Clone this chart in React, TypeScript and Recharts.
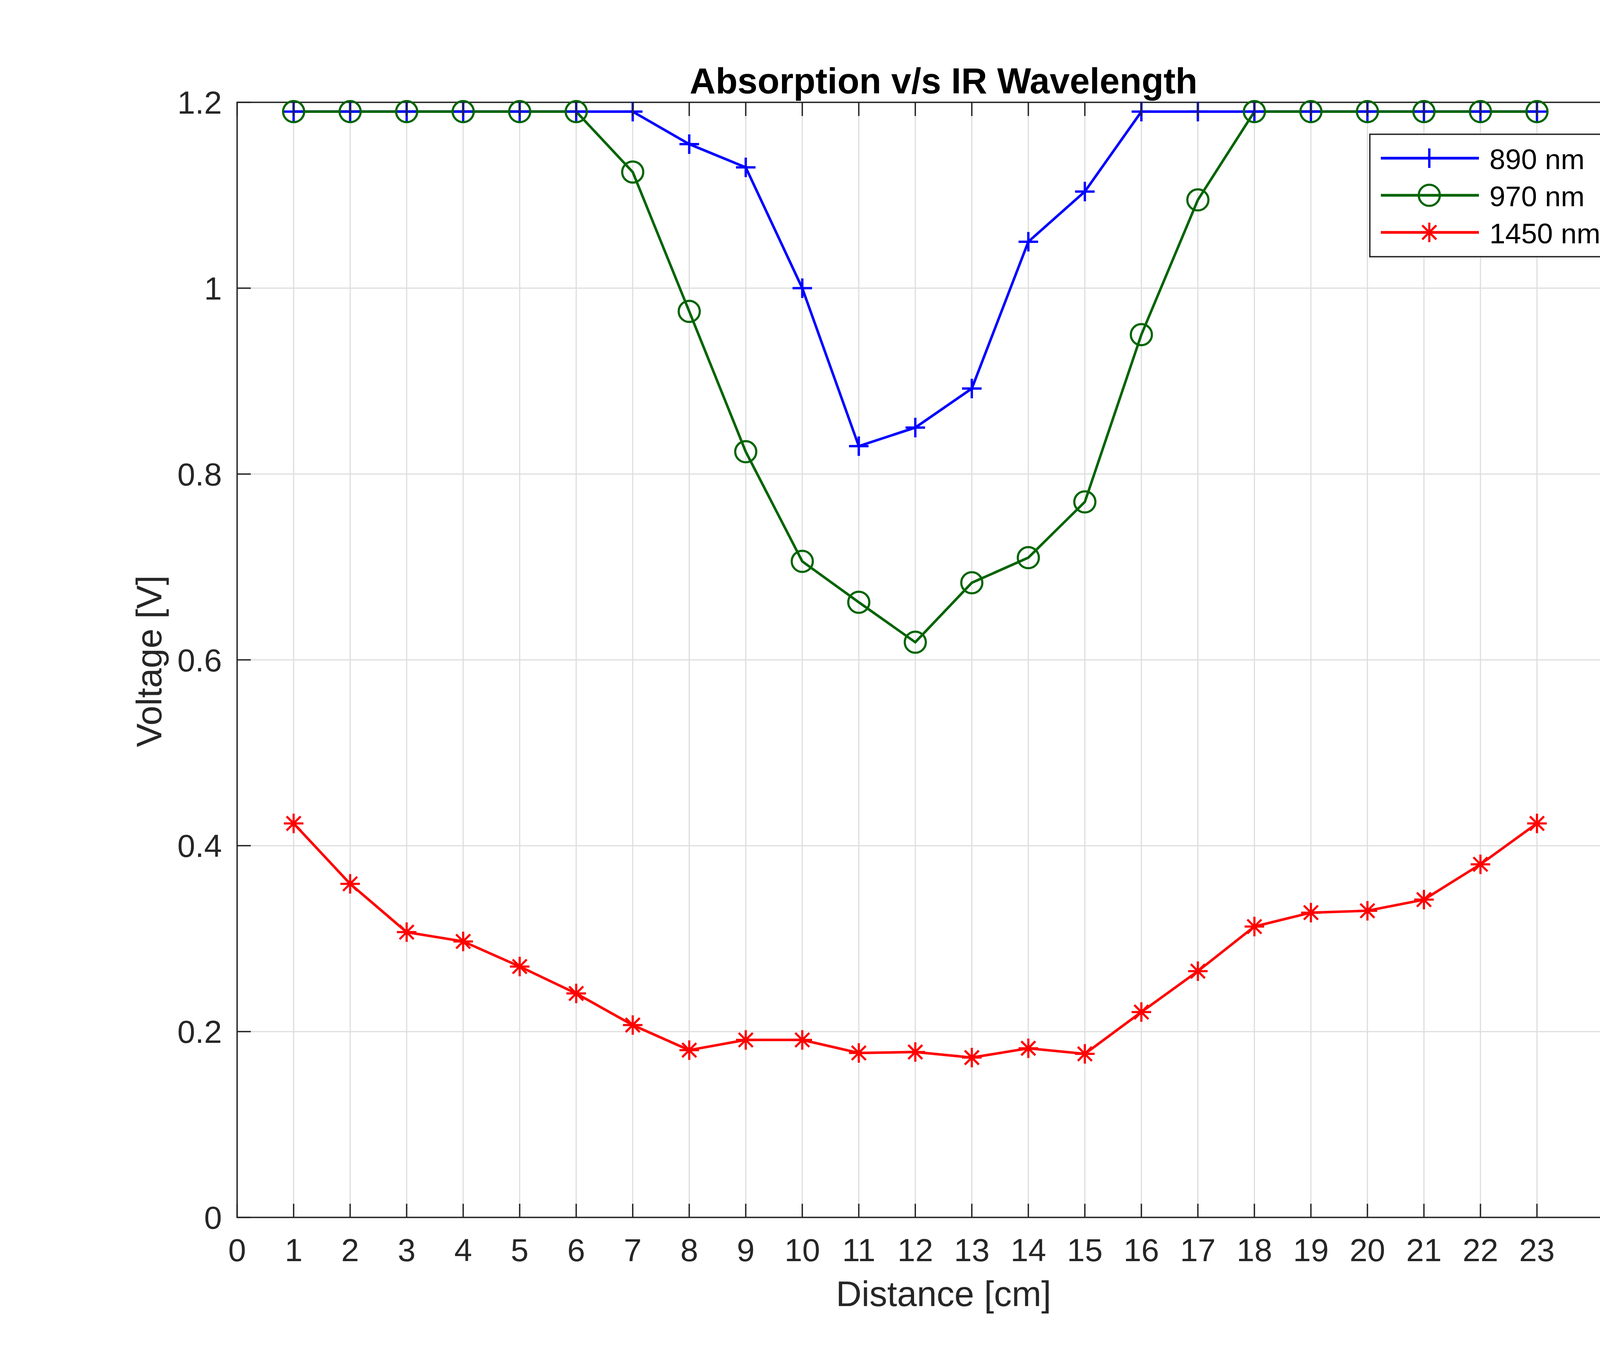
import { LineChart, Line, XAxis, YAxis, CartesianGrid, Legend, ReferenceArea } from 'recharts';

// distance in cm (x) and measured voltage per IR wavelength
const DISTANCE = [1, 2, 3, 4, 5, 6, 7, 8, 9, 10, 11, 12, 13, 14, 15, 16, 17, 18, 19, 20, 21, 22, 23];
const V_890 = [1.19, 1.19, 1.19, 1.19, 1.19, 1.19, 1.19, 1.155, 1.13, 1.0, 0.83, 0.85, 0.892, 1.05, 1.104, 1.19, 1.19, 1.19, 1.19, 1.19, 1.19, 1.19, 1.19];
const V_970 = [1.19, 1.19, 1.19, 1.19, 1.19, 1.19, 1.125, 0.975, 0.824, 0.706, 0.662, 0.619, 0.683, 0.71, 0.77, 0.95, 1.095, 1.19, 1.19, 1.19, 1.19, 1.19, 1.19];
const V_1450 = [0.424, 0.359, 0.307, 0.297, 0.27, 0.241, 0.207, 0.18, 0.191, 0.191, 0.177, 0.178, 0.172, 0.182, 0.176, 0.221, 0.265, 0.313, 0.328, 0.33, 0.342, 0.38, 0.424];

const X_TICKS = [0, 1, 2, 3, 4, 5, 6, 7, 8, 9, 10, 11, 12, 13, 14, 15, 16, 17, 18, 19, 20, 21, 22, 23];
const X_MINOR = Array.from({ length: 126 }, (_, i) => i / 5);
const Y_TICKS = [0, 0.2, 0.4, 0.6, 0.8, 1, 1.2];
const SERIES_ORDER = ['a', 'b', 'c'];

const data = DISTANCE.map((d, i) => ({ x: d, a: V_890[i], b: V_970[i], c: V_1450[i] }));

const W = 4667;
const H = 3500;
const PLOT_LEFT = 607;
const PLOT_RIGHT = 4224;
const PLOT_TOP = 262;
const PLOT_BOTTOM = 3117;
const AXIS = '#262626';
const FONT = '"Liberation Sans", Arial, Helvetica, sans-serif';
const MAJOR = 35;
const MINOR = 17;

const BLUE = '#0000ff';
const GREEN = '#006400';
const RED = '#ff0000';

function Plus({ cx, cy, color }: any) {
  const s = 25;
  return (
    <g stroke={color} strokeWidth={6}>
      <line x1={cx - s} y1={cy} x2={cx + s} y2={cy} />
      <line x1={cx} y1={cy - s} x2={cx} y2={cy + s} />
    </g>
  );
}

function Ring({ cx, cy, color }: any) {
  return <circle cx={cx} cy={cy} r={27} fill="none" stroke={color} strokeWidth={5.5} />;
}

function Star({ cx, cy, color }: any) {
  const s = 25;
  const d = 18;
  return (
    <g stroke={color} strokeWidth={5.5}>
      <line x1={cx - s} y1={cy} x2={cx + s} y2={cy} />
      <line x1={cx} y1={cy - s} x2={cx} y2={cy + s} />
      <line x1={cx - d} y1={cy - d} x2={cx + d} y2={cy + d} />
      <line x1={cx - d} y1={cy + d} x2={cx + d} y2={cy - d} />
    </g>
  );
}

const MARKERS: Record<string, any> = { a: Plus, b: Ring, c: Star };

function XTick({ x, payload }: any) {
  return (
    <g>
      <line x1={x} y1={PLOT_BOTTOM} x2={x} y2={PLOT_BOTTOM - MAJOR} stroke={AXIS} strokeWidth={3.5} />
      <line x1={x} y1={PLOT_TOP} x2={x} y2={PLOT_TOP + MAJOR} stroke={AXIS} strokeWidth={3.5} />
      <text x={x} y={PLOT_BOTTOM + 112} textAnchor="middle" fontSize={82} fontFamily={FONT} fill={AXIS}>
        {payload.value}
      </text>
    </g>
  );
}

function XMinorTick({ x }: any) {
  return (
    <g stroke={AXIS} strokeWidth={3.5}>
      <line x1={x} y1={PLOT_BOTTOM} x2={x} y2={PLOT_BOTTOM - MINOR} />
      <line x1={x} y1={PLOT_TOP} x2={x} y2={PLOT_TOP + MINOR} />
    </g>
  );
}

function YTick({ y, payload }: any) {
  return (
    <g>
      <line x1={PLOT_LEFT} y1={y} x2={PLOT_LEFT + MAJOR} y2={y} stroke={AXIS} strokeWidth={3.5} />
      <line x1={PLOT_RIGHT} y1={y} x2={PLOT_RIGHT - MAJOR} y2={y} stroke={AXIS} strokeWidth={3.5} />
      <text x={PLOT_LEFT - 39} y={y + 29} textAnchor="end" fontSize={82} fontFamily={FONT} fill={AXIS}>
        {String(payload.value)}
      </text>
    </g>
  );
}

function LegendBox({ payload }: any) {
  const rows = [...(payload || [])].sort(
    (p: any, q: any) => SERIES_ORDER.indexOf(p.dataKey) - SERIES_ORDER.indexOf(q.dataKey)
  );
  return (
    <svg width={637} height={317} style={{ display: 'block' }}>
      <rect x={1.75} y={1.75} width={633.5} height={313.5} fill="#fff" stroke={AXIS} strokeWidth={3.5} />
      {rows.map((entry: any, i: number) => {
        const y = 63 + i * 95;
        const M = MARKERS[entry.dataKey] || Plus;
        return (
          <g key={entry.value}>
            <line x1={30} y1={y} x2={281} y2={y} stroke={entry.color} strokeWidth={7} />
            <M cx={154} cy={y} color={entry.color} />
            <text x={308} y={y + 28} fontSize={73} fontFamily={FONT} fill="#000">
              {entry.value}
            </text>
          </g>
        );
      })}
    </svg>
  );
}

const dotFor = (key: string, color: string) => (p: any) => {
  const M = MARKERS[key];
  return (
    <g key={`${key}-${p.index}`}>
      <M cx={p.cx} cy={p.cy} color={color} />
    </g>
  );
};

export default function App() {
  return (
    <div style={{ position: 'absolute', left: 0, top: 0, width: W, height: H, background: '#fff' }}>
      <LineChart width={W} height={H} data={data} margin={{ top: PLOT_TOP, right: W - PLOT_RIGHT, bottom: H - PLOT_BOTTOM - 100, left: PLOT_LEFT - 100 }}>
        <CartesianGrid stroke="#dedede" strokeWidth={3} />
        <XAxis
          dataKey="x"
          type="number"
          domain={[0, 25]}
          ticks={X_TICKS}
          interval={0}
          height={100}
          axisLine={false}
          tickLine={false}
          tick={XTick}
        />
        <XAxis
          xAxisId="minor"
          dataKey="x"
          type="number"
          domain={[0, 25]}
          ticks={X_MINOR}
          interval={0}
          height={0}
          axisLine={false}
          tickLine={false}
          tick={XMinorTick}
        />
        <YAxis
          type="number"
          domain={[0, 1.2]}
          ticks={Y_TICKS}
          interval={0}
          width={100}
          axisLine={false}
          tickLine={false}
          tick={YTick}
        />
        <ReferenceArea x1={0} x2={25} y1={0} y2={1.2} fill="none" stroke={AXIS} strokeWidth={3.5} ifOverflow="visible" />
        <Line dataKey="a" name="890 nm" stroke={BLUE} strokeWidth={6.5} dot={dotFor('a', BLUE)} activeDot={false} isAnimationActive={false} />
        <Line dataKey="b" name="970 nm" stroke={GREEN} strokeWidth={6.5} dot={dotFor('b', GREEN)} activeDot={false} isAnimationActive={false} />
        <Line dataKey="c" name="1450 nm" stroke={RED} strokeWidth={6.5} dot={dotFor('c', RED)} activeDot={false} isAnimationActive={false} />
        <Legend
          layout="horizontal"
          verticalAlign="middle"
          align="center"
          content={LegendBox}
          wrapperStyle={{ position: 'absolute', left: 3505, top: 342, width: 637, height: 317 }}
        />
        <text x={(PLOT_LEFT + PLOT_RIGHT) / 2} y={239} textAnchor="middle" fontSize={92} fontWeight="bold" fontFamily={FONT} fill="#000">
          Absorption v/s IR Wavelength
        </text>
        <text x={(PLOT_LEFT + PLOT_RIGHT) / 2} y={3344} textAnchor="middle" fontSize={91} fontFamily={FONT} fill={AXIS}>
          Distance [cm]
        </text>
        <text x={413} y={1693} transform="rotate(-90 413 1693)" textAnchor="middle" fontSize={91} fontFamily={FONT} fill={AXIS}>
          Voltage [V]
        </text>
      </LineChart>
    </div>
  );
}
